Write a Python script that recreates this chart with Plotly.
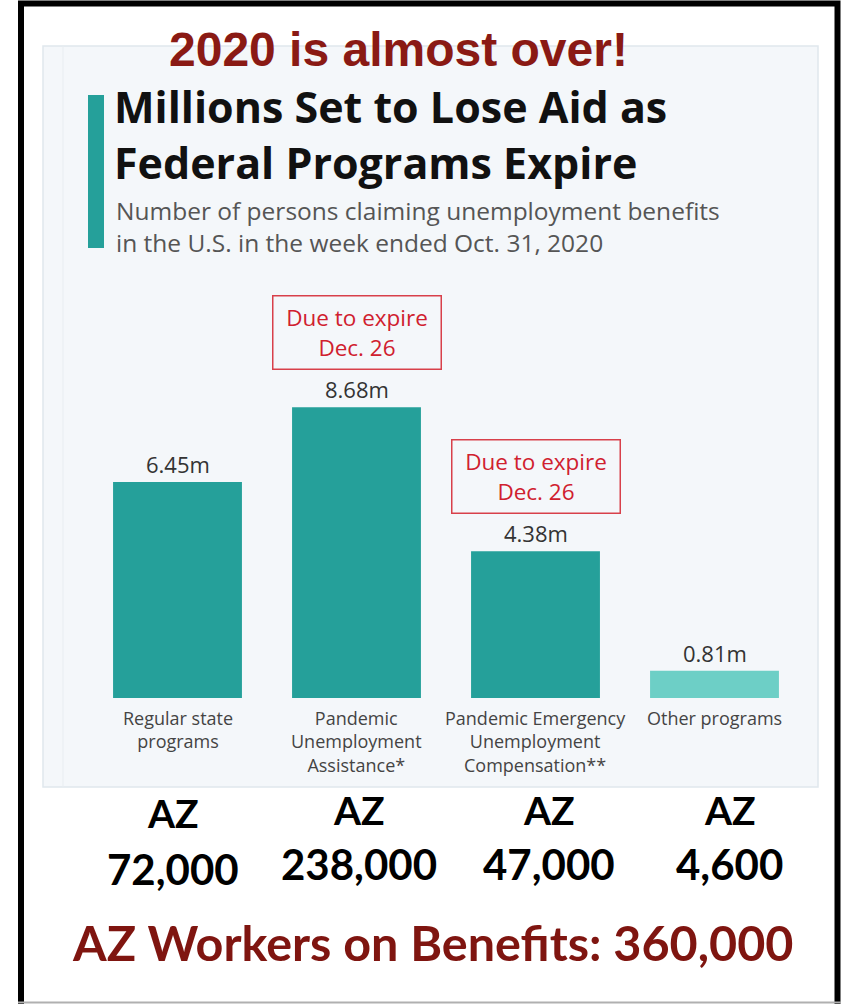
import plotly.graph_objects as go

W, H = 841, 1004

# ---- data ----
categories = ["Regular state programs", "Pandemic Unemployment Assistance",
              "Pandemic Emergency Unemployment Compensation", "Other programs"]
tick_labels = ["Regular state<br>programs",
               "Pandemic<br>Unemployment<br>Assistance*",
               "Pandemic Emergency<br>Unemployment<br>Compensation**",
               "Other programs"]
values_m = [6.45, 8.68, 4.38, 0.81]
value_labels = ["6.45m", "8.68m", "4.38m", "0.81m"]
expiring = [False, True, True, False]
az_counts = ["72,000", "238,000", "47,000", "4,600"]
az_total = "360,000"
bar_colors = ["#25a09a", "#25a09a", "#25a09a", "#6dcfc6"]
title_text = "Millions Set to Lose Aid as<br>Federal Programs Expire"
subtitle_text = "Number of persons claiming unemployment benefits<br>in the U.S. in the week ended Oct. 31, 2020"

def px(x):
    return x / W

def py(y):
    return 1 - y / H

# y axis: baseline at pixel 698, ~33.5 px per million
base_px, top_px = 698, 300
ymax = (base_px - top_px) / 33.5

fig = go.Figure()
fig.add_trace(go.Bar(
    x=categories, y=values_m, marker=dict(color=bar_colors, line=dict(width=0)),
    width=0.72, hoverinfo="skip",
))

fig.update_layout(
    width=W, height=H, margin=dict(l=0, r=0, t=0, b=0),
    paper_bgcolor="white", plot_bgcolor="rgba(0,0,0,0)", showlegend=False,
    xaxis=dict(domain=[px(88), px(804)], range=[-0.5, 3.5], showgrid=False, zeroline=False,
               showline=False, ticks="", showticklabels=False),
    yaxis=dict(domain=[py(base_px), py(top_px)], range=[0, ymax], visible=False),
)

shapes = []
# light panel
shapes.append(dict(type="rect", xref="paper", yref="paper", x0=px(43), x1=px(818), y0=py(787), y1=py(46),
                   fillcolor="#f4f7fa", line=dict(color="#e0e7ed", width=1.5), layer="below"))
shapes.append(dict(type="line", xref="paper", yref="paper", x0=px(63), x1=px(63), y0=py(787), y1=py(46),
                   line=dict(color="#e8edf1", width=1), layer="below"))
# teal accent bar
shapes.append(dict(type="rect", xref="paper", yref="paper", x0=px(88), x1=px(104), y0=py(248), y1=py(95),
                   fillcolor="#25a09a", line=dict(width=0)))
# outer frame
shapes.append(dict(type="rect", xref="paper", yref="paper", x0=px(21), x1=px(837.5), y0=py(1040), y1=py(3.5),
                   line=dict(color="black", width=6)))
shapes.append(dict(type="line", xref="paper", yref="paper", x0=px(18), x1=px(841), y0=py(1002.5), y1=py(1002.5),
                   line=dict(color="#b0b0b0", width=2)))
fig.update_layout(shapes=shapes)

ann = []
ann.append(dict(text="<b>2020 is almost over!</b>", xref="paper", yref="paper", x=px(398), y=py(50),
                xanchor="center", yanchor="middle", showarrow=False,
                font=dict(family="Liberation Sans", size=48, color="#8a1a14")))
ann.append(dict(text=f"<b>{title_text.replace('<br>', '</b><br><b>')}</b>", xref="paper", yref="paper",
                x=px(112), y=py(134), xanchor="left", yanchor="middle", align="left", showarrow=False,
                font=dict(family="Open Sans", size=43, color="#111111")))
ann.append(dict(text=subtitle_text, xref="paper", yref="paper", x=px(114), y=py(226),
                xanchor="left", yanchor="middle", align="left", showarrow=False,
                font=dict(family="Open Sans", size=24.5, color="#555555")))

for c, v, lab, exp, tl in zip(categories, values_m, value_labels, expiring, tick_labels):
    ann.append(dict(text=lab, x=c, y=v, xref="x", yref="y", xanchor="center", yanchor="bottom",
                    yshift=1, showarrow=False, font=dict(family="Open Sans", size=22, color="#333333")))
    if exp:
        ann.append(dict(text="Due to expire<br>Dec. 26", x=c, y=v, xref="x", yref="y",
                        xanchor="center", yanchor="bottom", yshift=37, showarrow=False,
                        width=163, height=68, bordercolor="#d8404a", borderwidth=1.5, borderpad=2,
                        bgcolor="rgba(0,0,0,0)",
                        font=dict(family="Open Sans", size=22.5, color="#d0202e")))
    ann.append(dict(text=tl, x=c, y=0, xref="x", yref="y", xanchor="center", yanchor="top",
                    yshift=-6, showarrow=False, align="center",
                    font=dict(family="Open Sans", size=18, color="#444444")))

az_xshift = [-5, 2, 13, 15]
az_yoff = [3, 0, 0, 0]
num_yoff = [5, 0, 0, 0]
for c, n, dx, dy1, dy2 in zip(categories, az_counts, az_xshift, az_yoff, num_yoff):
    ann.append(dict(text="<b>AZ</b>", x=c, y=py(810 + dy1), xref="x", yref="paper", xanchor="center",
                    xshift=dx, yanchor="middle", showarrow=False,
                    font=dict(family="Lato", size=39, color="black")))
    ann.append(dict(text=f"<b>{n}</b>", x=c, y=py(864 + dy2), xref="x", yref="paper", xanchor="center",
                    xshift=dx, yanchor="middle", showarrow=False,
                    font=dict(family="Lato", size=42, color="black")))

ann.append(dict(text=f"<b>AZ Workers on Benefits: {az_total}</b>", xref="paper", yref="paper",
                x=px(433), y=py(942), xanchor="center", yanchor="middle", showarrow=False,
                font=dict(family="Lato", size=48.5, color="#7f1510")))

fig.update_layout(annotations=ann)
fig.write_html("out.html", config={"displayModeBar": False},
               post_script="document.body.style.margin='0';document.body.style.overflow='hidden';")
